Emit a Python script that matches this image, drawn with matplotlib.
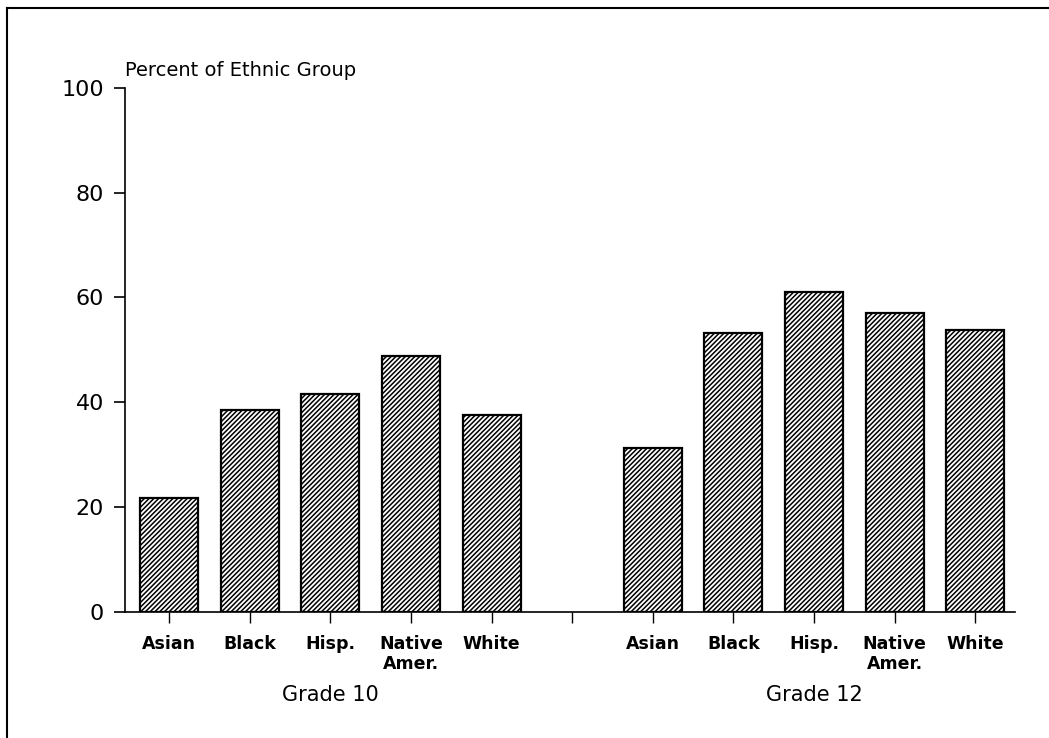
import matplotlib.pyplot as plt
import numpy as np
from matplotlib.lines import Line2D

# Data
groups = ['Grade 10', 'Grade 12']
ethnic = ['Asian', 'Black', 'Hisp.', 'Native\nAmer.', 'White']
grade10 = [21.7, 38.5, 41.5, 48.9, 37.5]
grade12 = [31.3, 53.2, 61.1, 57.0, 53.7]

plt.rcParams['font.family'] = ['DejaVu Sans']
plt.rcParams['hatch.linewidth'] = 1.1

fig = plt.figure(figsize=(10.49, 7.38), dpi=100)
ax = fig.add_axes([0.119, 0.171, 0.849, 0.710])

# positions: 0-4 for grade 10, gap at 5, 6-10 for grade 12
x10 = np.arange(len(ethnic))
x12 = np.arange(len(ethnic)) + len(ethnic) + 1
width = 0.72

ax.bar(x10, grade10, width, color='white', edgecolor='black', hatch='///////', linewidth=1.6)
ax.bar(x12, grade12, width, color='white', edgecolor='black', hatch='///////', linewidth=1.6)

ax.set_xlim(-0.55, 10.5)
ax.set_ylim(0, 100)
ax.set_yticks([0, 20, 40, 60, 80, 100])
ax.tick_params(axis='y', labelsize=16, length=8, width=1.2, pad=7)

ticks = list(x10) + [len(ethnic)] + list(x12)
labels = ethnic + [''] + ethnic
ax.set_xticks(ticks)
ax.set_xticklabels(labels, fontsize=12.5, fontweight='bold', linespacing=1.1, va='top')
ax.tick_params(axis='x', length=8, width=1.0, pad=9)

for s in ['top', 'right']:
    ax.spines[s].set_visible(False)
ax.spines['left'].set_linewidth(1.2)
ax.spines['bottom'].set_linewidth(1.2)

ax.text(0, 1.015, 'Percent of Ethnic Group', transform=ax.transAxes,
        ha='left', va='bottom', fontsize=14)

ax.text(np.mean(x10), -0.14, groups[0], transform=ax.get_xaxis_transform(),
        ha='center', va='top', fontsize=15)
ax.text(np.mean(x12), -0.14, groups[1], transform=ax.get_xaxis_transform(),
        ha='center', va='top', fontsize=15)

# outer frame (top and left edges visible)
fig.add_artist(Line2D([0.007, 1.0], [0.989, 0.989], color='black', lw=1.5, transform=fig.transFigure))
fig.add_artist(Line2D([0.007, 0.007], [0.0, 0.989], color='black', lw=1.5, transform=fig.transFigure))

fig.savefig('out.png', dpi=100)
